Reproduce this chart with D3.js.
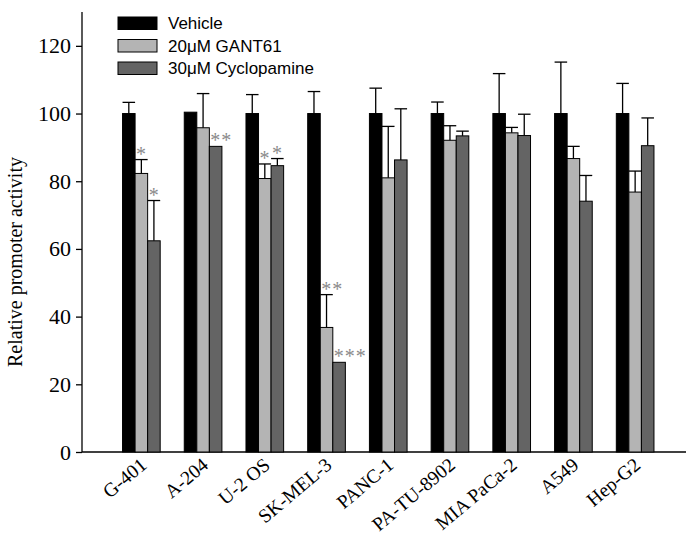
<!DOCTYPE html>
<html lang="en">
<head>
    <meta charset="UTF-8">
    <title>Relative promoter activity</title>
    <script src="https://d3js.org/d3.v7.min.js"></script>
    <style>
        body { margin: 0; background: white; }
        .axis path, .axis line { stroke: #000; stroke-width: 1.3; }
        .axis text { font-family: "Liberation Serif", "Times New Roman", serif; fill: #000; }
    </style>
</head>
<body>
    <svg id="chart" width="686" height="535"></svg>

    <script>
        // cell lines along the x axis
        const cellLines = ["G-401", "A-204", "U-2 OS", "SK-MEL-3", "PANC-1", "PA-TU-8902", "MIA PaCa-2", "A549", "Hep-G2"];
        const seriesNames = ["Vehicle", "20\u03bcM GANT61", "30\u03bcM Cyclopamine"];

        // values
        const vehicle = [100, 100.4, 100, 100, 100, 100, 100, 100, 100];
        const gant61 = [82.3, 95.8, 80.8, 36.8, 81.0, 92.1, 94.3, 86.7, 76.8];
        const cyclopamine = [62.4, 90.3, 84.6, 26.5, 86.3, 93.4, 93.5, 74.1, 90.5];

        // upper error (SD)
        const errVehicle = [3.3, 0, 5.6, 6.5, 7.5, 3.4, 11.8, 15.2, 8.9];
        const errGant61 = [4.1, 10.1, 4.3, 9.7, 15.2, 4.3, 1.6, 3.6, 6.2];
        const errCyclopamine = [11.9, 0, 2.1, 0, 15.1, 1.4, 6.3, 7.6, 8.2];

        // significance marks
        const sigVehicle = ["", "", "", "", "", "", "", "", ""];
        const sigGant61 = ["*", "", "*", "**", "", "", "", "", ""];
        const sigCyclopamine = ["*", "**", "*", "***", "", "", "", "", ""];

        const yTicks = [0, 20, 40, 60, 80, 100, 120];
        const colors = ["#000000", "#b4b4b4", "#646464"];

        const allValues = [vehicle, gant61, cyclopamine];
        const allErrors = [errVehicle, errGant61, errCyclopamine];
        const allSig = [sigVehicle, sigGant61, sigCyclopamine];

        const svg = d3.select("#chart");
        const axisLeftX = 82, axisRightX = 686, axisBottomY = 452, axisTopY = 12;

        const y = d3.scaleLinear().domain([0, 130]).range([axisBottomY, axisTopY]);
        const x0 = d3.scaleBand().domain(cellLines).range([110.5, 666]).paddingInner(0.39).paddingOuter(0.195);
        const x1 = d3.scaleBand().domain(d3.range(3)).range([0, x0.bandwidth()]);

        // build flat table for drawing
        const table = [];
        cellLines.forEach((c, i) => {
            allValues.forEach((vals, s) => {
                table.push({ cell: c, s: s, value: vals[i], err: allErrors[s][i], sig: allSig[s][i] });
            });
        });

        // axes
        svg.append("g").attr("class", "axis")
            .attr("transform", `translate(${axisLeftX},0)`)
            .call(d3.axisLeft(y).tickValues(yTicks).tickSize(6).tickPadding(5))
            .call(g => g.select(".domain").attr("d", `M0,${axisTopY}V${axisBottomY}`))
            .selectAll("text").style("font-size", "22px");

        svg.append("line")
            .attr("x1", axisLeftX).attr("x2", axisRightX)
            .attr("y1", axisBottomY).attr("y2", axisBottomY)
            .attr("stroke", "#000").attr("stroke-width", 1.3);

        // y label
        svg.append("text")
            .attr("transform", `translate(22,${(axisTopY + axisBottomY) / 2 + 30}) rotate(-90)`)
            .attr("text-anchor", "middle")
            .style("font-family", "Liberation Serif, serif")
            .style("font-size", "20px")
            .text("Relative promoter activity");

        // x tick labels, slanted
        const labelX = d => x0(d) + x0.bandwidth() / 2 + 6.5;
        const labelY = axisBottomY + 15;
        svg.append("g").selectAll("g")
            .data(cellLines)
            .join("g")
            .attr("transform", d => `translate(${labelX(d)},${labelY})`)
            .append("text")
            .attr("transform", "rotate(-40)")
            .attr("text-anchor", "end")
            .style("font-family", "Liberation Serif, serif")
            .style("font-size", "19.5px")
            .text(d => d);

        const bw = x1.bandwidth();
        const barX = d => x0(d.cell) + x1(d.s);

        // bars
        svg.append("g").selectAll("rect")
            .data(table)
            .join("rect")
            .attr("x", barX)
            .attr("y", d => y(d.value))
            .attr("width", bw)
            .attr("height", d => y(0) - y(d.value))
            .attr("fill", d => colors[d.s])
            .attr("stroke", "#000")
            .attr("stroke-width", 1);

        // error bars
        const errs = svg.append("g").selectAll("g")
            .data(table.filter(d => d.err > 0))
            .join("g")
            .attr("stroke", "#000")
            .attr("stroke-width", 1.3);
        errs.append("line")
            .attr("x1", d => barX(d) + bw / 2).attr("x2", d => barX(d) + bw / 2)
            .attr("y1", d => y(d.value)).attr("y2", d => y(d.value + d.err));
        errs.append("line")
            .attr("x1", d => barX(d)).attr("x2", d => barX(d) + bw)
            .attr("y1", d => y(d.value + d.err)).attr("y2", d => y(d.value + d.err));

        // significance stars
        svg.append("g").selectAll("text")
            .data(table.filter(d => d.sig))
            .join("text")
            .attr("x", d => barX(d) + 1)
            .attr("y", d => y(d.value + d.err) + 1)
            .style("font-family", "Liberation Serif, serif")
            .style("font-size", "20px")
            .style("letter-spacing", "1px")
            .attr("fill", "#8a8a8a")
            .text(d => d.sig);

        // legend
        const legend = svg.append("g").selectAll("g")
            .data(seriesNames)
            .join("g")
            .attr("transform", (d, i) => `translate(118,${17 + i * 22.5})`);
        legend.append("rect")
            .attr("width", 39).attr("height", 12.5)
            .attr("fill", (d, i) => colors[i])
            .attr("stroke", "#000");
        legend.append("text")
            .attr("x", 50).attr("y", 12)
            .style("font-family", "Liberation Sans, Arial, sans-serif")
            .style("font-size", "17px")
            .text(d => d);
    </script>
</body>
</html>
